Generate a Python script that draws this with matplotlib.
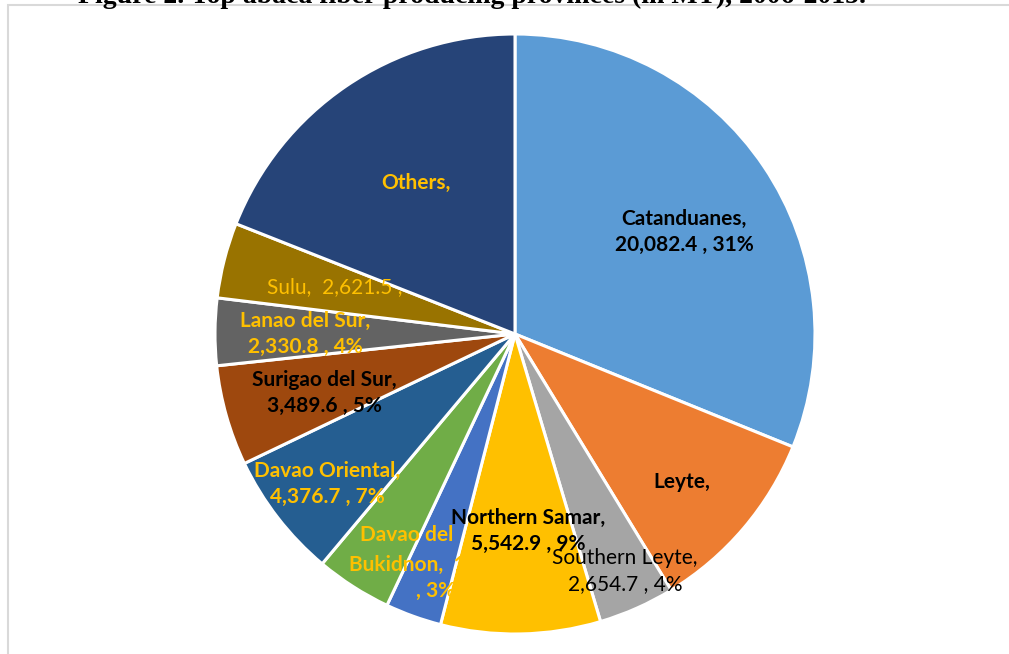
import matplotlib
matplotlib.use("Agg")
import matplotlib.pyplot as plt
from matplotlib.patches import Rectangle

W, H = 1009, 654

provinces = ["Catanduanes", "Leyte", "Southern Leyte", "Northern Samar", "Bukidnon",
             "Davao del", "Davao Oriental", "Surigao del Sur", "Lanao del Sur", "Sulu", "Others"]
production_mt = [20082.4, 6540.0, 2654.7, 5542.9, 1951.0,
                 2640.0, 4376.7, 3489.6, 2330.8, 2621.5, 12260.0]
colors = ["#5B9BD5", "#ED7D31", "#A5A5A5", "#FFC000", "#4472C4",
          "#70AD47", "#255E91", "#9E480E", "#636363", "#997300", "#264478"]

total = sum(production_mt)
pct = [round(v / total * 100) for v in production_mt]

GOLD = "#FFC000"

# label text, colour, weight and position (x, y in pixels from top-left)
labels = [
    (f"{provinces[0]},\n{production_mt[0]:,.1f} , {pct[0]}%", "black", "bold", (684, 232)),
    (f"{provinces[1]},", "black", "bold", (682, 482)),
    (f"{provinces[2]},\n{production_mt[2]:,.1f} , {pct[2]}%", "black", "normal", (625, 571)),
    (f"{provinces[3]},\n{production_mt[3]:,.1f} , {pct[3]}%", "black", "bold", (528, 531)),
    (f"{provinces[4]},  {production_mt[4]:,.1f}\n, {pct[4]}%", GOLD, "bold", (436, 578)),
    (f"{provinces[5]}", GOLD, "bold", (407, 535)),
    (f"{provinces[6]},\n{production_mt[6]:,.1f} , {pct[6]}%", GOLD, "bold", (327, 484)),
    (f"{provinces[7]},\n{production_mt[7]:,.1f} , {pct[7]}%", "black", "bold", (324, 393)),
    (f"{provinces[8]},\n{production_mt[8]:,.1f} , {pct[8]}%", GOLD, "bold", (305, 334)),
    (f"{provinces[9]},  {production_mt[9]:,.1f} ,", GOLD, "normal", (335, 287)),
    (f"{provinces[10]},", GOLD, "bold", (416, 183)),
]

fig = plt.figure(figsize=(W / 100, H / 100), dpi=100)
ax = fig.add_axes([0, 0, 1, 1])

# light chart-area frame
ax.add_patch(Rectangle((8, -20), W + 20, H - 5 + 20, fill=False,
                       edgecolor="#D9D9D9", linewidth=1.5))

ax.pie(production_mt, colors=colors, startangle=90, counterclock=False,
       center=(515, H - 334), radius=300, frame=True,
       wedgeprops=dict(edgecolor="white", linewidth=2.2))
ax.set_xlim(0, W)
ax.set_ylim(0, H)
ax.axis("off")

for text, col, weight, (x, y) in labels:
    ax.text(x, H - y, text, color=col, fontweight=weight, fontsize=15,
            family="Lato", ha="center", va="center", linespacing=1.4)

# figure caption, partly cut off by the top edge
fig.text(78 / W, 1 - 3 / H, "Figure 2. Top abaca fiber producing provinces (in MT), 2006-2015.",
         family="Liberation Serif", fontweight="bold", fontsize=20,
         ha="left", va="baseline", color="black")

fig.savefig("out.png", dpi=100)
